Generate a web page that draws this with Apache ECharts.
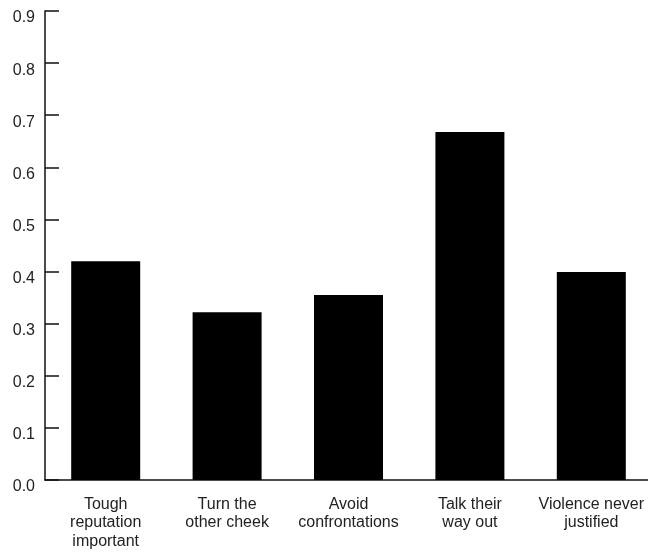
<!DOCTYPE html>
<html><head><meta charset="utf-8">
<script src="https://cdn.jsdelivr.net/npm/echarts@6/dist/echarts.min.js"></script>
<style>html,body{margin:0;padding:0;background:#fff}#c{width:648px;height:559px}</style>
</head><body><div id="c"></div>
<script>
var categories = ["Tough\nreputation\nimportant", "Turn the\nother cheek", "Avoid\nconfrontations", "Talk their\nway out", "Violence never\njustified"];
var values = [0.42, 0.322, 0.355, 0.668, 0.399];
var chart = echarts.init(document.getElementById('c'));
chart.setOption({
  animation: false,
  grid: {left: 45, top: 11, bottom: 79, width: 607, outerBoundsMode: 'none'},
  xAxis: {
    type: 'category', data: categories,
    axisLine: {lineStyle: {color: '#111', width: 1.5}},
    axisTick: {show: false},
    axisLabel: {color: '#222', fontSize: 16, fontFamily: 'Liberation Sans, Arial, sans-serif', lineHeight: 18.5, margin: 15, interval: 0}
  },
  yAxis: {
    type: 'value', min: 0, max: 0.9, interval: 0.1,
    axisLine: {show: true, lineStyle: {color: '#111', width: 1.5}},
    axisTick: {show: true, inside: true, length: 14, lineStyle: {color: '#111', width: 1.5}},
    splitLine: {show: false},
    axisLabel: {color: '#222', fontSize: 16, fontFamily: 'Liberation Sans, Arial, sans-serif', margin: 10, verticalAlign: 'top', lineHeight: 14, formatter: function(v){return v.toFixed(1);}}
  },
  series: [{type: 'bar', data: values, barWidth: 69, itemStyle: {color: '#000'}}]
});
</script></body></html>
